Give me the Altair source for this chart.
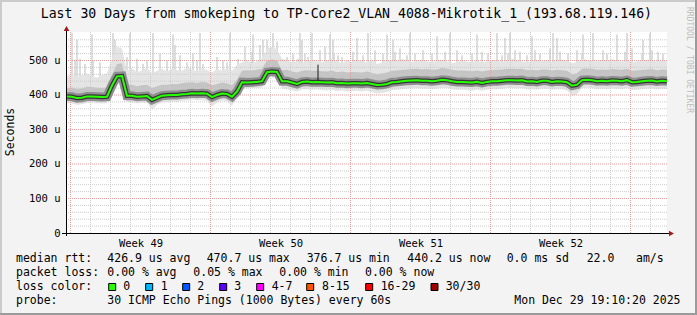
import altair as alt
import pandas as pd

MONO = "DejaVu Sans Mono"

# ---------------- data ----------------
# sample times (days since start of the 30-day window), one every 6 hours
step_days = [i * 0.25 for i in range(121)]

median_rtt = [
    396, 395, 391, 392, 396, 396, 395, 394, 395, 428,
    454, 455, 398, 398, 395, 396, 397, 386, 392, 398,
    399, 400, 400, 402, 403, 405, 404, 405, 404, 394,
    400, 404, 403, 395, 410, 437, 436, 437, 438, 440,
    466, 468, 467, 440, 440, 436, 432, 438, 439, 437,
    438, 437, 436, 437, 434, 435, 433, 434, 434, 433,
    435, 432, 429, 430, 432, 437, 438, 440, 441, 442,
    443, 441, 441, 440, 441, 444, 443, 440, 438, 438,
    437, 436, 438, 435, 438, 440, 440, 441, 443, 443,
    442, 443, 439, 440, 438, 441, 441, 438, 440, 439,
    437, 427, 430, 443, 444, 443, 440, 441, 440, 442,
    441, 440, 443, 437, 438, 440, 441, 442, 439, 441,
    440,
]
smoke_lo = [
    376, 375, 372, 373, 377, 378, 376, 375, 377, 415,
    440, 442, 380, 379, 376, 377, 378, 358, 372, 379,
    380, 381, 380, 383, 384, 386, 385, 385, 383, 366,
    378, 384, 382, 368, 398, 420, 419, 420, 421, 422,
    457, 458, 457, 418, 416, 414, 410, 416, 417, 415,
    416, 414, 413, 415, 411, 413, 410, 411, 412, 410,
    412, 409, 404, 406, 409, 414, 415, 417, 418, 419,
    420, 418, 418, 417, 418, 421, 420, 417, 415, 415,
    414, 412, 415, 412, 415, 417, 417, 418, 420, 420,
    419, 420, 416, 417, 415, 418, 418, 415, 417, 416,
    413, 398, 402, 420, 421, 420, 417, 418, 417, 419,
    418, 417, 420, 414, 415, 417, 418, 419, 416, 418,
    417,
]
smoke_hi = [
    455, 460, 452, 458, 462, 455, 450, 458, 462, 505,
    540, 535, 470, 478, 465, 472, 480, 462, 470, 475,
    468, 476, 472, 470, 480, 474, 468, 478, 472, 465,
    475, 470, 478, 470, 488, 495, 500, 492, 498, 505,
    535, 540, 532, 505, 500, 495, 498, 492, 500, 502,
    498, 495, 500, 505, 498, 492, 500, 496, 502, 498,
    495, 500, 490, 494, 500, 502, 498, 505, 500, 496,
    500, 502, 498, 495, 500, 503, 498, 492, 495, 500,
    497, 495, 500, 494, 498, 502, 500, 496, 502, 505,
    500, 498, 495, 500, 502, 498, 500, 496, 500, 503,
    498, 492, 495, 505, 502, 500, 498, 502, 500, 504,
    500, 497, 502, 495, 498, 500, 503, 500, 497, 500,
    498,
]
dense_lo = [
    384, 383, 380, 381, 384, 385, 383, 382, 384, 420,
    447, 448, 387, 386, 384, 385, 386, 372, 381, 387,
    388, 389, 389, 391, 392, 394, 393, 394, 392, 380,
    388, 393, 392, 382, 402, 428, 427, 428, 429, 431,
    461, 463, 462, 428, 429, 425, 421, 427, 428, 426,
    427, 426, 425, 426, 423, 424, 422, 423, 423, 422,
    424, 421, 417, 419, 421, 426, 427, 429, 430, 431,
    432, 430, 430, 429, 430, 433, 432, 429, 427, 427,
    426, 425, 427, 424, 427, 429, 429, 430, 432, 432,
    431, 432, 428, 429, 427, 430, 430, 427, 429, 428,
    426, 414, 418, 432, 433, 432, 429, 430, 429, 431,
    430, 429, 432, 426, 427, 429, 430, 431, 428, 430,
    429,
]
dense_hi = [
    420, 422, 418, 419, 424, 423, 421, 420, 422, 460,
    490, 492, 428, 430, 425, 428, 430, 420, 425, 430,
    430, 432, 431, 434, 436, 437, 435, 438, 436, 428,
    432, 436, 434, 428, 445, 470, 472, 471, 473, 476,
    500, 503, 500, 472, 473, 468, 465, 470, 472, 470,
    471, 469, 468, 470, 466, 468, 465, 467, 466, 465,
    468, 464, 461, 462, 465, 470, 471, 473, 474, 475,
    476, 474, 475, 473, 474, 478, 476, 473, 471, 471,
    470, 469, 471, 468, 471, 473, 473, 474, 476, 476,
    475, 476, 472, 473, 471, 474, 474, 471, 473, 472,
    470, 460, 463, 476, 477, 476, 473, 474, 473, 475,
    474, 473, 476, 470, 471, 473, 474, 475, 472, 474,
    473,
]

# individual high pings (smoke spikes)
spike_day = [
    0.25, 0.5, 1.25, 2.3, 2.4, 3.15, 4.3, 5.3, 5.4, 6.65, 8.15, 9.3, 9.8, 10.3,
    10.5, 11.65, 11.75, 12.25, 13.15, 13.3, 14.5, 15.05, 16.0, 16.3, 17.15, 18.5,
    19.15, 20.5, 21.5, 21.9, 22.15, 23.25, 24.3, 24.5, 25.8, 26.3, 27.5, 28.0,
    28.8, 29.15,
    0.4, 0.65, 0.9, 1.3, 1.65, 3.0, 3.5, 3.8, 4.0, 4.65, 5.0, 5.65,
    6.0, 6.3, 6.5, 6.8, 7.5, 7.8, 8.0, 8.55, 8.9, 9.25, 9.65, 10.0, 11.0, 11.3, 11.55,
    11.9, 12.05, 12.65, 12.9, 13.35, 13.55, 13.75, 14.3, 14.8, 15.4, 15.8, 16.4,
    16.65, 17.0, 17.4,
    17.8, 18.25, 18.9, 19.5, 19.75, 20.25, 20.75, 21.05, 21.75, 22.05, 22.4, 22.65,
    23.0, 23.4, 23.65,
    24.15, 24.65, 25.05, 25.5, 25.75, 26.8, 27.0, 27.9, 28.25, 28.75, 29.25, 29.55, 29.8,
]
spike_top = [
    580, 560, 575, 580, 560, 580, 580, 575, 545, 580, 580, 575, 560, 580,
    555, 580, 560, 580, 575, 560, 565, 580, 575, 560, 580, 570,
    580, 575, 580, 565, 580, 570, 580, 565, 575, 580, 575, 580,
    560, 580,
    502, 505, 490, 500, 495, 510, 505, 490, 500, 520, 500, 515,
    495, 520, 500, 490, 510, 500, 495, 505, 540, 525, 545, 560, 510, 520, 505,
    520, 510, 530, 540, 520, 515, 510, 525, 515, 530, 520, 525,
    535, 515, 520,
    530, 520, 525, 530, 515, 520, 525, 520, 515, 520, 530, 525,
    515, 530, 520,
    535, 525, 520, 530, 520, 530, 520, 525, 535, 520, 530, 525, 520,
]
dark_spike_day = [12.55]
dark_spike_top = [488]

week_centers = [3.675, 10.675, 17.675, 24.675]
week_labels = ["Week 49", "Week 50", "Week 51", "Week 52"]
y_ticks = [0, 100, 200, 300, 400, 500]

title_text = "Last 30 Days from smokeping to TP-Core2_VLAN_4088-Mikrotik_1_(193.68.119.146)"
legend_rtt = ["median rtt:", "426.9 us avg", "470.7 us max", "376.7 us min",
              "440.2 us now", "0.0 ms sd", "22.0", "am/s"]
legend_loss = ["packet loss:", "0.00 % avg", "0.05 % max", "0.00 % min", "0.00 % now"]
loss_labels = ["0", "1", "2", "3", "4-7", "8-15", "16-29", "30/30"]
loss_colors = ["#26ff00", "#00b8ff", "#0059ff", "#5e00ff", "#ff00ff", "#ff5500", "#ff0000", "#a10000"]
probe_text = "30 ICMP Echo Pings (1000 Bytes) every 60s"
stamp_text = "Mon Dec 29 19:10:20 2025"

# ---------------- layout constants (pixels) ----------------
W, H = 600, 201
PAD = {"left": 67, "top": 32, "right": 30, "bottom": 82}
rtt_x = [16, 107.3, 206.7, 306.7, 407.3, 506.7, 586.7, 636]
loss_x = [16, 107.3, 193.3, 279.3, 365]
sq_x = [108.7, 145.7, 182.7, 219.7, 256.7, 306.7, 365.7, 431]
lab_x = [123.3, 160.7, 197.3, 234.3, 271.7, 322, 380.7, 445.7]

df = pd.DataFrame({"day": step_days, "med": median_rtt, "lo": smoke_lo, "hi": smoke_hi,
                   "qlo": dense_lo, "qhi": dense_hi})
spikes = pd.DataFrame({"day": spike_day, "top": spike_top})
dspikes = pd.DataFrame({"day": dark_spike_day, "top": dark_spike_top})
one = pd.DataFrame({"a": [0]})

xs = alt.Scale(domain=[0, 30], nice=False, zero=False)
ys = alt.Scale(domain=[0, 582.6], nice=False, zero=False)

week_expr = " : ".join(
    f"datum.value < {c + 3.5} ? '{l}'" for c, l in zip(week_centers[:-1], week_labels[:-1])
) + f" : '{week_labels[-1]}'"

x_axis = alt.Axis(values=week_centers, labelExpr=week_expr, title=None, grid=False,
                  domain=False, ticks=False, tickSize=0, labelFont=MONO, labelFontSize=10.5,
                  labelColor="#000000", labelPadding=10, labelBaseline="middle",
                  labelAngle=0, labelFlush=False, labelOverlap=False)
y_axis = alt.Axis(values=y_ticks,
                  labelExpr="datum.value == 0 ? '0\u00a0\u00a0' : datum.value + ' u'",
                  title=None, grid=False, domain=False, ticks=False, tickSize=0,
                  labelFont=MONO, labelFontSize=10.5, labelColor="#000000",
                  labelPadding=7, labelBaseline="middle", labelFlush=False, labelOverlap=False)

X = alt.X("day:Q", scale=xs, axis=x_axis)


def Y(field):
    return alt.Y(field, scale=ys, axis=y_axis)


spike_layer = alt.Chart(spikes).mark_rule(color="#d2d2d2", strokeWidth=1.5).encode(
    x=X, y=Y("top:Q"), y2=alt.datum(450))

light = alt.Chart(df).mark_area(color="#e4e4e4").encode(x=X, y=Y("lo:Q"), y2="hi:Q")

dense = alt.Chart(df).mark_area(color="#c4c4c4").encode(x=X, y=Y("qlo:Q"), y2="qhi:Q")

minor_v = [0.175 + k for k in range(30) if k % 7 != 0]
major_v = [0.175 + k for k in range(0, 30, 7)]
minor_h = [v for v in range(20, 580, 20) if v % 100 != 0]
major_h = [100, 200, 300, 400, 500]


def vgrid(vals, color):
    return alt.Chart(pd.DataFrame({"g": vals})).mark_rule(
        color=color, strokeWidth=1, strokeDash=[1, 1]).encode(x=alt.X("g:Q", scale=xs, axis=x_axis))


def hgrid(vals, color):
    return alt.Chart(pd.DataFrame({"g": vals})).mark_rule(
        color=color, strokeWidth=1, strokeDash=[1, 1]).encode(y=Y("g:Q"))


grid = [hgrid(minor_h, "#cccccc"), vgrid(minor_v, "#cccccc"),
        hgrid(major_h, "#eb9d9d"), vgrid(major_v, "#eb9d9d")]

halo = alt.Chart(df).mark_line(color="#8e8e8e", strokeWidth=9).encode(x=X, y=Y("med:Q"))
dark = alt.Chart(df).mark_line(color="#363636", strokeWidth=4.5).encode(x=X, y=Y("med:Q"))
dark_spk = alt.Chart(dspikes).mark_rule(color="#1a1a1a", strokeWidth=1).encode(
    x=X, y=Y("top:Q"), y2=alt.datum(440))
green = alt.Chart(df).mark_line(color="#26ff00", strokeWidth=2).encode(x=X, y=Y("med:Q"))


def vrule(x1, x2, y1, y2, color, width=1):
    return alt.Chart(one).mark_rule(color=color, strokeWidth=width).encode(
        x=alt.value(x1), x2=alt.value(x2), y=alt.value(y1), y2=alt.value(y2))


axis_lines = [
    vrule(-5, 603, 201.5, 201.5, "#000000"),
    vrule(-0.5, -0.5, -4, 204, "#000000"),
]
arrows = [
    alt.Chart(one).mark_point(shape="triangle-right", filled=True, size=32, color="#a01818",
                              opacity=1).encode(x=alt.value(604.5), y=alt.value(201.5)),
    alt.Chart(one).mark_point(shape="triangle-up", filled=True, size=32, color="#a01818",
                              opacity=1).encode(x=alt.value(-0.5), y=alt.value(-3.5)),
]

borders = [
    vrule(-67, 630, -31, -31, "#cbcbcb", 2),
    vrule(-66, -66, -32, 283, "#cbcbcb", 2),
    vrule(-67, 630, 282, 282, "#9b9b9b", 2),
    vrule(629, 629, -32, 283, "#9b9b9b", 2),
]


def txt(s, x, y, size=11.5, align="left", angle=0, color="#000000", baseline="middle"):
    return alt.Chart(one).mark_text(align=align, baseline=baseline, font=MONO,
                                    fontSize=size, angle=angle, color=color).encode(
        x=alt.value(x - PAD["left"]), y=alt.value(y - PAD["top"]), text=alt.value(s))


texts = [txt(title_text, 40.7, 17.5, size=13.2, baseline="alphabetic")]
texts.append(txt("Seconds", 11, 132, angle=270, align="center"))
texts.append(txt("RRDTOOL / TOBI OETIKER", 689, 60, size=8, angle=90, align="center",
                 color="#bdbdbd"))
for s, x in zip(legend_rtt, rtt_x):
    texts.append(txt(s, x, 259.3))
for s, x in zip(legend_loss, loss_x):
    texts.append(txt(s, x, 272.7))
texts.append(txt("loss color:", 16, 287))
for s, x in zip(loss_labels, lab_x):
    texts.append(txt(s, x, 287))
texts.append(txt("probe:", 16, 300.5))
texts.append(txt(probe_text, 107.3, 300.5))
texts.append(txt(stamp_text, 680.5, 300.5, align="right"))

squares = []
for c, x in zip(loss_colors, sq_x):
    squares.append(alt.Chart(one).mark_rect(color=c, stroke="#000000", strokeWidth=1).encode(
        x=alt.value(x - PAD["left"]), x2=alt.value(x - PAD["left"] + 7),
        y=alt.value(283.5 - PAD["top"]), y2=alt.value(290.5 - PAD["top"])))

layers = [spike_layer, light, dense] + grid + [halo, dark, dark_spk, green] \
    + axis_lines + arrows + borders + texts + squares

chart = alt.layer(*layers).properties(
    width=W, height=H, padding=PAD,
    autosize=alt.AutoSizeParams(type="none"),
    background="#f3f3f3",
).configure_view(fill="#ffffff", stroke=None)

chart.save("out.html", embed_options={"renderer": "svg", "actions": False})
